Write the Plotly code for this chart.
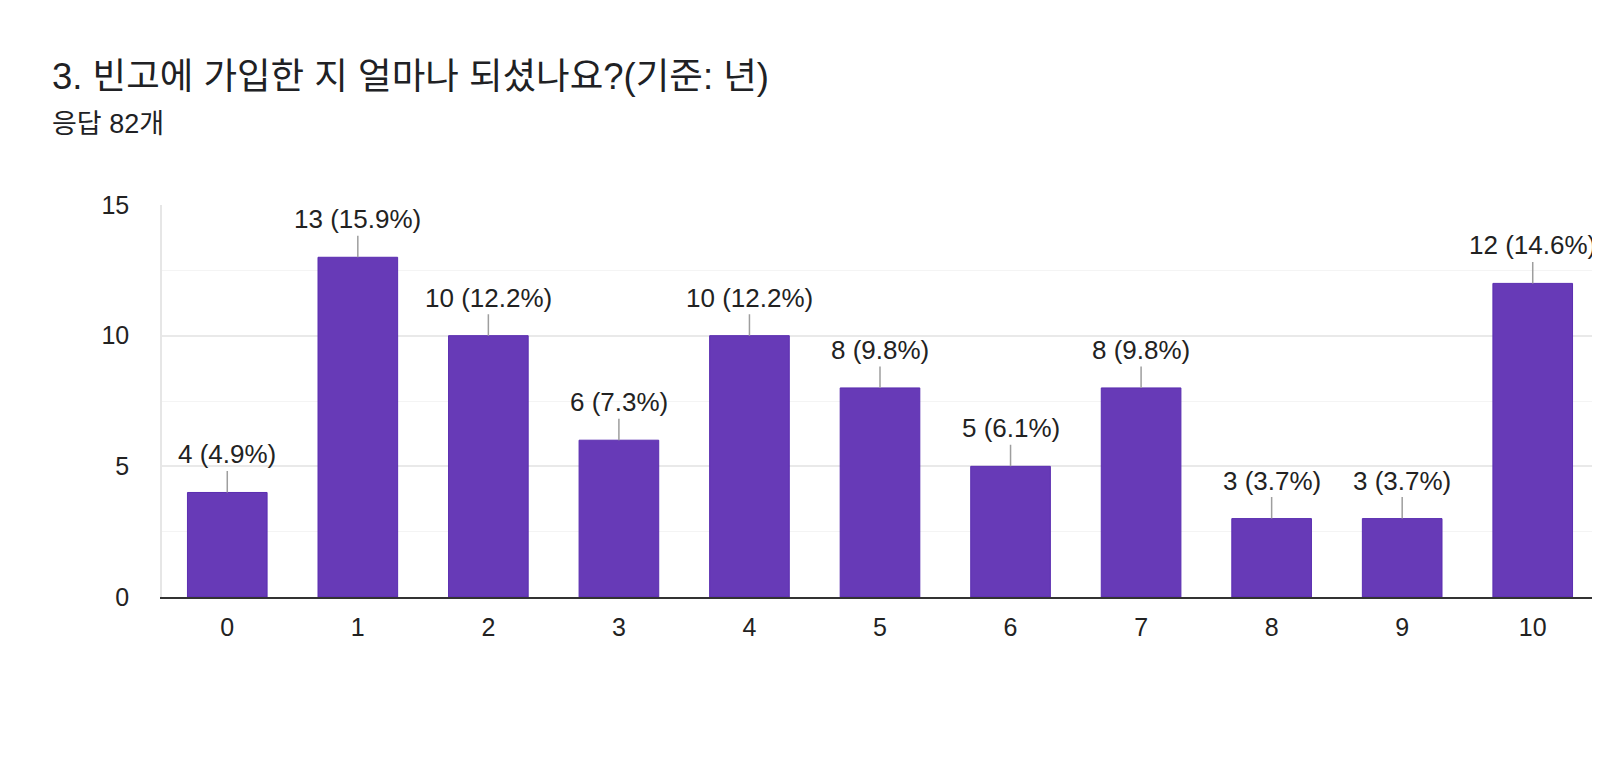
import plotly.graph_objects as go

# survey: years since joining (응답 82개)
years = [0, 1, 2, 3, 4, 5, 6, 7, 8, 9, 10]
counts = [4, 13, 10, 6, 10, 8, 5, 8, 3, 3, 12]
percents = [4.9, 15.9, 12.2, 7.3, 12.2, 9.8, 6.1, 9.8, 3.7, 3.7, 14.6]
y_ticks = [0, 5, 10, 15]

FONT = "Arial, 'Liberation Sans', 'Noto Sans CJK KR', sans-serif"
PURPLE = "#673ab7"

fig = go.Figure()
fig.add_trace(go.Bar(
    x=years,
    y=counts,
    width=0.61,
    marker=dict(color=PURPLE, line=dict(color="#5a2db0", width=1)),
    hoverinfo="skip",
))

# value labels with short grey leader lines
for x, c, p in zip(years, counts, percents):
    fig.add_annotation(
        x=x, y=c, xref="x", yref="y",
        text=f"{c} ({p}%)",
        showarrow=True, arrowhead=0, arrowwidth=1.5, arrowcolor="#9e9e9e",
        ax=0, ay=-38,
        font=dict(family=FONT, size=26, color="#222222"),
    )

fig.add_annotation(
    text="3. 빈고에 가입한 지 얼마나 되셨나요?(기준: 년)",
    xref="paper", yref="paper", x=-0.078, y=1.327,
    xanchor="left", yanchor="middle", showarrow=False,
    font=dict(family=FONT, size=36.5, color="#202124"),
)
fig.add_annotation(
    text="응답 82개",
    xref="paper", yref="paper", x=-0.078, y=1.207,
    xanchor="left", yanchor="middle", showarrow=False,
    font=dict(family=FONT, size=27, color="#202124"),
)

# page body has an 8px margin, so the margins are shifted to compensate
fig.update_layout(
    width=1600, height=760,
    margin=dict(l=154, r=8, t=197, b=171),
    paper_bgcolor="white", plot_bgcolor="white",
    showlegend=False,
    font=dict(family=FONT, color="#222222"),
)
fig.update_xaxes(
    tickmode="array", tickvals=years, ticktext=[str(v) for v in years],
    range=[-0.5, 10.5],
    showgrid=False, zeroline=False,
    showline=True, linecolor="#333333", linewidth=2,
    ticks="", ticklabelstandoff=7,
    tickfont=dict(family=FONT, size=25, color="#222222"),
)
fig.update_yaxes(
    range=[0, 15], tickvals=y_ticks,
    showgrid=True, gridcolor="#e9e9e9", gridwidth=1.5,
    minor=dict(dtick=2.5, showgrid=True, gridcolor="#f4f4f4", gridwidth=1),
    zeroline=False,
    showline=True, linecolor="#e6e6e6", linewidth=1.5, mirror=True,
    ticks="", ticklabelstandoff=26,
    tickfont=dict(family=FONT, size=25, color="#222222"),
)

fig.write_html("out.html")
